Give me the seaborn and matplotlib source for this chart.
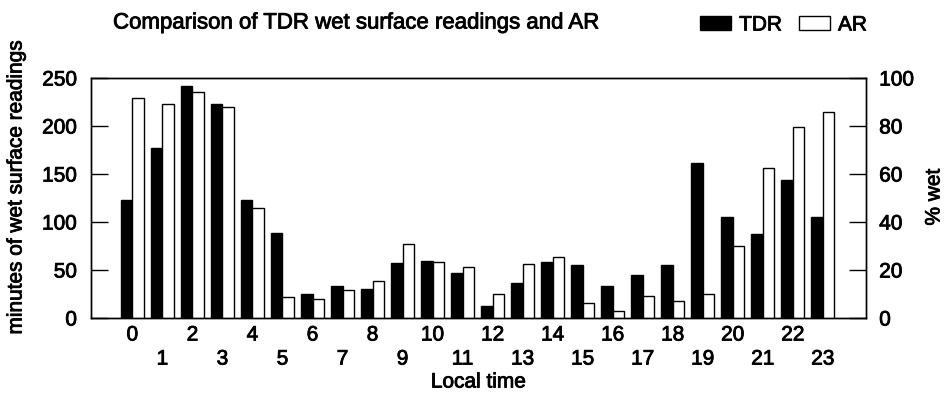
import matplotlib
matplotlib.use("Agg")
import matplotlib.pyplot as plt
import matplotlib.patheffects as pe
import matplotlib.text as mtext
import seaborn as sns
import pandas as pd
from matplotlib.patches import Patch

# ---- data ----
hours = list(range(24))
tdr_minutes = [123, 177, 242, 223, 123, 89, 25, 33, 30, 57, 59, 47,
               13, 36, 58, 55, 33, 45, 55, 161, 105, 87, 144, 105]
ar_percent = [91.5, 89, 94.3, 87.8, 45.8, 8.8, 7.8, 11.7, 15.6, 30.7, 23.5, 21.3,
              9.9, 22.4, 25.4, 6.1, 2.8, 9.3, 7.2, 9.9, 30, 62.4, 79.7, 85.8]
series_names = ["TDR", "AR"]
left_ticks = [0, 50, 100, 150, 200, 250]
right_ticks = [0, 20, 40, 60, 80, 100]

sns.set_theme(style="white")
plt.rcParams['font.family'] = ['Liberation Sans', 'DejaVu Sans']
FS = 15
FS_TITLE = 16

df_tdr = pd.DataFrame({"hour": hours, "value": tdr_minutes, "series": "TDR"})
df_ar = pd.DataFrame({"hour": hours, "value": ar_percent, "series": "AR"})
pal = {"TDR": "black", "AR": "white"}

fig = plt.figure(figsize=(9.44, 4.0), dpi=100)
ax = fig.add_axes([91/944, 82/400, 775/944, 240/400])
ax2 = ax.twinx()

common = dict(x="hour", y="value", hue="series", hue_order=series_names,
              palette=pal, dodge=True, width=0.78, edgecolor="black",
              linewidth=1.0, saturation=1, legend=False)
sns.barplot(data=df_tdr, ax=ax, **common)
sns.barplot(data=df_ar, ax=ax2, **common)

ax.set_xlim(-1.38, 24.44)
ax.set_ylim(0, 250)
ax2.set_ylim(0, 100)

ax.set_yticks(left_ticks)
ax2.set_yticks(right_ticks)
ax.tick_params(axis='y', direction='in', length=12, width=1, pad=10,
               labelsize=FS, colors='black', left=True)
ax2.tick_params(axis='y', direction='in', length=12, width=1, pad=9.5,
                labelsize=FS, colors='black', right=True)

ax.set_xticks(hours[::2], labels=[str(h) for h in hours[::2]])
ax.set_xticks(hours[1::2], labels=[str(h) for h in hours[1::2]], minor=True)
ax.tick_params(axis='x', which='major', length=0, pad=5.4, labelsize=FS)
ax.tick_params(axis='x', which='minor', length=0, pad=22.7, labelsize=FS)

ax.set_xlabel("")
ax.set_ylabel("")
ax2.set_ylabel("")

for a in (ax, ax2):
    for s in a.spines.values():
        s.set_color("black")
        s.set_linewidth(1.0)

fig.text(478.5/944, 1 - 382/400, "Local time", ha="center", va="center", fontsize=FS)
fig.text(16/944, 1 - 187/400, "minutes of wet surface readings", rotation=90,
         ha="center", va="center", fontsize=FS)
fig.text(934/944, 1 - 197/400, "% wet", rotation=90, ha="center", va="center", fontsize=FS)
fig.text(113/944, 1 - 28.5/400, "Comparison of TDR wet surface readings and AR",
         ha="left", va="baseline", fontsize=FS_TITLE)

handles = [Patch(facecolor="black", edgecolor="black", label="TDR"),
           Patch(facecolor="white", edgecolor="black", label="AR")]
fig.legend(handles=handles, loc="center left", bbox_to_anchor=(700/944, 1 - 25/400),
           ncol=2, frameon=False, handlelength=1.5, handleheight=0.65,
           handletextpad=0.38, columnspacing=0.8, fontsize=FS,
           borderaxespad=0, borderpad=0)

# slightly heavier text, like the scanned original
for t in fig.findobj(mtext.Text):
    t.set_color("black")
    t.set_path_effects([pe.withStroke(linewidth=0.6, foreground="black")])

fig.savefig("out.png", dpi=100)
